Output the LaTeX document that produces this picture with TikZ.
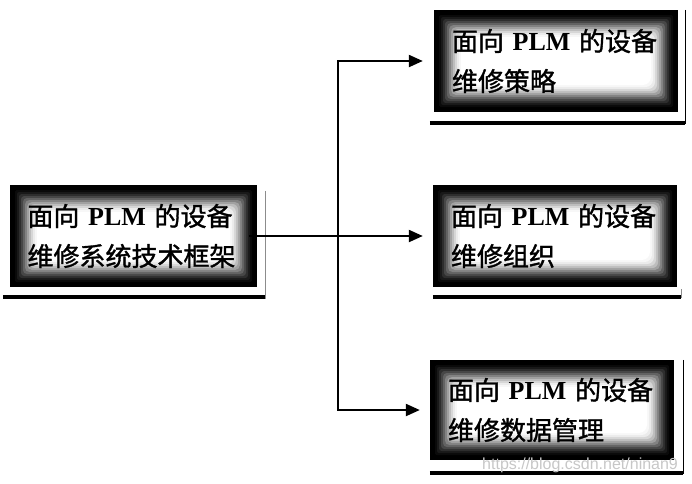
\documentclass[tikz,border=0pt]{standalone}
\usepackage{fontspec}
\setmainfont{Liberation Serif}
\newfontfamily\cjk[FakeBold=1.3]{Noto Sans CJK SC}
\newfontfamily\wmfont{Liberation Sans}
\usetikzlibrary{arrows.meta}
\begin{document}
\begin{tikzpicture}[x=1pt,y=-1pt,
  fuzzy/.style={path picture={
    \foreach \d/\c in {0/100,5/96,7/90,9/82,11/72,13/61,15/49,17/37,19/26,21/16,23/8,25/3,27/0}{
      \fill[black!\c, rounded corners=\d*0.3pt]
        ([xshift=\d pt,yshift=-\d pt]path picture bounding box.north west) rectangle
        ([xshift=-\d pt,yshift=\d pt]path picture bounding box.south east);}
  }},
  box/.style={fuzzy, inner sep=0pt, minimum height=102pt, align=left,
    font=\fontsize{26}{40}\selectfont},
  conn/.style={line width=2.2pt, black},
  arr/.style={conn, -{Triangle[length=14pt,width=12pt]}},
  shb/.style={line width=3.5pt, black},
  shr/.style={line width=1.3pt, black}
]
\useasboundingbox (0,0) rectangle (692,483);

\node[box, minimum width=247pt, text width=212pt] (L) at (133.5,236)
  {{\cjk 面向} \textbf{PLM} {\cjk 的设备}\\{\cjk 维修系统技术框架}};
\node[box, minimum width=244pt, text width=208pt] (A) at (556,61)
  {{\cjk 面向} \textbf{PLM} {\cjk 的设备}\\{\cjk 维修策略}};
\node[box, minimum width=244pt, text width=208pt] (B) at (555,236)
  {{\cjk 面向} \textbf{PLM} {\cjk 的设备}\\{\cjk 维修组织}};
\node[box, minimum width=244pt, minimum height=100pt, text width=208pt] (C) at (552,410)
  {{\cjk 面向} \textbf{PLM} {\cjk 的设备}\\{\cjk 维修数据管理}};

% shadows
\draw[shb] ([shift={(-7,10)}]L.south west) -- ([shift={(8,10)}]L.south east);
\draw[shr, black!45] ([shift={(8,6)}]L.north east) -- ([shift={(8,12)}]L.south east);
\draw[shb] ([shift={(-4,11)}]A.south west) -- ([shift={(7,11)}]A.south east);
\draw[shr] ([shift={(7,0)}]A.north east) -- ([shift={(7,12)}]A.south east);
\draw[shb] ([shift={(0,10)}]B.south west) -- ([shift={(4,10)}]B.south east);
\draw[shr, black!45] ([shift={(4,2)}]B.south east) -- ([shift={(4,11)}]B.south east);
\draw[shb] ([shift={(0,13)}]C.south west) -- ([shift={(9,13)}]C.south east);
\draw[shr] ([shift={(9,0)}]C.north east) -- ([shift={(9,14)}]C.south east);

% connectors
\coordinate (J) at (338,236);
\draw[arr, shorten <=-8pt, shorten >=10pt] (L.east) -- (B.west);
\draw[arr, shorten >=11pt] (J) |- (A.west);
\draw[arr, shorten >=10pt] (J) |- (C.west);

% watermark
\node[anchor=west, inner sep=0pt, font=\wmfont\fontsize{16}{16}\selectfont, text=black!22] (W) at (482,465) {https://blog.csdn.net/ninan9};
\end{tikzpicture}
\end{document}
